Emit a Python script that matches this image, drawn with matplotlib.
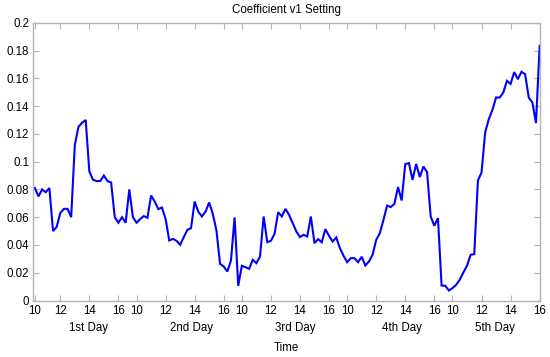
import matplotlib
matplotlib.use("Agg")
import matplotlib.pyplot as plt
import matplotlib.transforms as mtransforms
import numpy as np

plt.rcParams['font.family'] = ['Liberation Sans', 'DejaVu Sans']

# Coefficient values, one per sample (15-minute samples, 5 trading days)
day1 = [0.081, 0.075, 0.080, 0.078, 0.081, 0.050, 0.053, 0.063, 0.066, 0.066,
        0.060, 0.112, 0.125, 0.128, 0.130, 0.093, 0.087, 0.086, 0.086, 0.090,
        0.086, 0.085, 0.060, 0.056, 0.060, 0.056, 0.080, 0.060]
day2 = [0.056, 0.0586, 0.0608, 0.0596, 0.0756, 0.0713, 0.0658, 0.067, 0.0588, 0.0432,
        0.0444, 0.043, 0.0401, 0.0456, 0.0509, 0.0521, 0.0713, 0.064, 0.0605, 0.064,
        0.0706, 0.0624, 0.0504, 0.0264, 0.0245, 0.0209, 0.0288, 0.0598, 0.0106]
day3 = [0.025, 0.024, 0.0228, 0.0293, 0.0269, 0.0317, 0.0605, 0.042, 0.043, 0.048,
        0.0636, 0.0605, 0.066, 0.0617, 0.0557, 0.0497, 0.0457, 0.0473, 0.0461, 0.0605,
        0.0413, 0.0442, 0.042, 0.0514, 0.0466, 0.0425, 0.0454, 0.0377, 0.0322]
day4 = [0.0276, 0.0305, 0.0305, 0.0276, 0.0315, 0.0252, 0.0281, 0.0329, 0.0437, 0.0485,
        0.0581, 0.0684, 0.0673, 0.0696, 0.0817, 0.072, 0.0982, 0.099, 0.0869, 0.0984,
        0.0889, 0.0965, 0.0925, 0.0605, 0.0538, 0.0593, 0.0108, 0.0106, 0.0072]
day5 = [0.0089, 0.0113, 0.0149, 0.0202, 0.025, 0.0329, 0.0334, 0.0864, 0.0922, 0.121,
        0.1306, 0.1373, 0.1462, 0.1462, 0.1498, 0.1582, 0.156, 0.1645, 0.1594, 0.1647,
        0.163, 0.1462, 0.1426, 0.1278, 0.1834]

values = day1 + day2 + day3 + day4 + day5

day_names = ["1st Day", "2nd Day", "3rd Day", "4th Day", "5th Day"]
hour_labels = ["10", "12", "14", "16"]
# sample index of the 10/12/14/16 o'clock ticks for each day
tick_index = [[0, 7, 15, 23], [28, 36, 44, 52], [57, 65, 73, 81],
              [86, 94, 102, 110], [115, 123, 131, 139]]
day_label_pos = [14.7, 43.2, 71.6, 101.0, 126.6]

W, H = 550, 357
fig = plt.figure(figsize=(W / 100, H / 100), dpi=100)
left, right, top, bottom = 32.5, 540, 22.8, 300.5
ax = fig.add_axes([left / W, 1 - bottom / H, (right - left) / W, (bottom - top) / H])

x = np.arange(len(values))
ax.plot(x, values, color='#0000ff', lw=1.5, solid_joinstyle='miter')

ax.set_xlim(-0.65, 139.1)
ax.set_ylim(0, 0.2)

xt = [t for d in tick_index for t in d]
xl = [h for _ in tick_index for h in hour_labels]
ax.set_xticks(xt)
ax.set_xticklabels(xl)
yt = np.round(np.arange(0, 0.201, 0.02), 2)
ax.set_yticks(yt)
ax.set_yticklabels(["0" if v == 0 else ("%g" % v) for v in yt])

fs = 8.3
spine_col = '#b4b4b4'
for s in ax.spines.values():
    s.set_color(spine_col)
    s.set_linewidth(1.0)
ax.tick_params(direction='in', length=4, width=0.8, color=spine_col,
               labelsize=fs, labelcolor='#000000', top=True, right=True,
               labeltop=False, labelright=False)
ax.tick_params(axis='x', pad=3)
ax.tick_params(axis='y', pad=2.5)

trans = mtransforms.blended_transform_factory(ax.transData, fig.transFigure)
for name, pos in zip(day_names, day_label_pos):
    ax.text(pos, 1 - 328 / H, name, transform=trans, ha='center', va='center',
            fontsize=fs, clip_on=False)

fig.text((left + right) / 2 / W, 1 - 348 / H, "Time", ha='center', va='center', fontsize=fs)
fig.text((left + right) / 2 / W, 1 - 10 / H, "Coefficient v1 Setting", ha='center',
         va='center', fontsize=fs)

fig.savefig("out.png", dpi=100)
